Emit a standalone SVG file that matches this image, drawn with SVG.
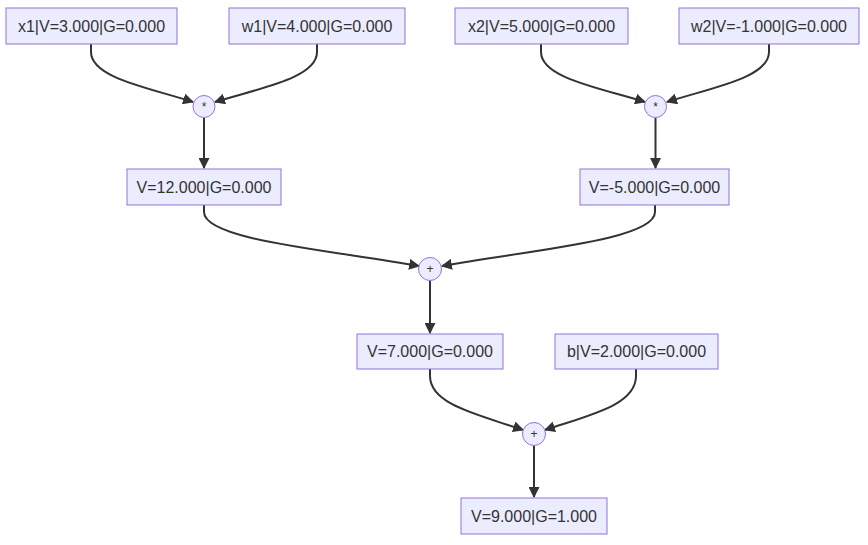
<svg xmlns="http://www.w3.org/2000/svg" width="868" height="545" viewBox="0 0 868 545">
<defs>
<marker id="arr" viewBox="0 0 10 10" refX="9" refY="5" markerWidth="11" markerHeight="11" markerUnits="userSpaceOnUse" orient="auto">
<path d="M0,0 L10,5 L0,10 z" fill="#333"/>
</marker>
</defs>
<style>
.box{fill:#ECECFF;stroke:#9370DB;stroke-width:1}
.lbl{font-family:"Liberation Sans",Arial,sans-serif;font-size:16px;fill:#333;text-anchor:middle}
.op{font-family:"Liberation Sans",Arial,sans-serif;font-size:12px;fill:#333;text-anchor:middle}
.edge{fill:none;stroke:#333;stroke-width:2;marker-end:url(#arr)}
</style>
<rect width="868" height="545" fill="#fff"/>
<g id="connectors">
<path class="edge" d="M91,44 L91,52 C91,78 150,88 193,102"/>
<path class="edge" d="M317,44 L317,52 C317,78 260,88 215,102"/>
<path class="edge" d="M204,118 L204,168"/>
<path class="edge" d="M541,44 L541,52 C541,78 600,88 645,102"/>
<path class="edge" d="M769,44 L769,52 C769,78 710,88 667,102"/>
<path class="edge" d="M655.5,118 L655.5,168"/>
<path class="edge" d="M204,205 L204,212 C204,240 330,250 419,266"/>
<path class="edge" d="M655,205 L655,212 C655,240 530,250 442,266"/>
<path class="edge" d="M430,281 L430,333"/>
<path class="edge" d="M430,368 L430,376 C430,405 480,415 523,430"/>
<path class="edge" d="M636,368 L636,376 C636,405 590,415 545,430"/>
<path class="edge" d="M534,446 L534,497"/>
</g>
<g id="x1"><rect class="box" x="6" y="8" width="171" height="36"/><text class="lbl" x="91.5" y="31.5">x1|V=3.000|G=0.000</text></g>
<g id="w1"><rect class="box" x="229" y="8" width="176" height="36"/><text class="lbl" x="317" y="31.5">w1|V=4.000|G=0.000</text></g>
<g id="x2"><rect class="box" x="455" y="8" width="173" height="36"/><text class="lbl" x="541.5" y="31.5">x2|V=5.000|G=0.000</text></g>
<g id="w2"><rect class="box" x="679" y="8" width="180" height="36"/><text class="lbl" x="769" y="31.5">w2|V=-1.000|G=0.000</text></g>
<g id="mul1"><circle class="box" cx="204" cy="106.5" r="11"/><text class="op" x="204" y="110.5">*</text></g>
<g id="mul2"><circle class="box" cx="655.5" cy="106.5" r="11"/><text class="op" x="655.5" y="110.5">*</text></g>
<g id="v12"><rect class="box" x="127" y="169" width="154" height="36"/><text class="lbl" x="204" y="192.5">V=12.000|G=0.000</text></g>
<g id="vm5"><rect class="box" x="580" y="169" width="149" height="36"/><text class="lbl" x="654.5" y="192.5">V=-5.000|G=0.000</text></g>
<g id="add1"><circle class="box" cx="430" cy="269" r="11.5"/><text class="op" x="430" y="273">+</text></g>
<g id="v7"><rect class="box" x="357" y="334" width="146" height="35"/><text class="lbl" x="430" y="357">V=7.000|G=0.000</text></g>
<g id="b"><rect class="box" x="555" y="334" width="163" height="35"/><text class="lbl" x="636.5" y="357">b|V=2.000|G=0.000</text></g>
<g id="add2"><circle class="box" cx="534" cy="434" r="11.5"/><text class="op" x="534" y="438">+</text></g>
<g id="v9"><rect class="box" x="461" y="498" width="146" height="36"/><text class="lbl" x="534" y="521.5">V=9.000|G=1.000</text></g>
</svg>
